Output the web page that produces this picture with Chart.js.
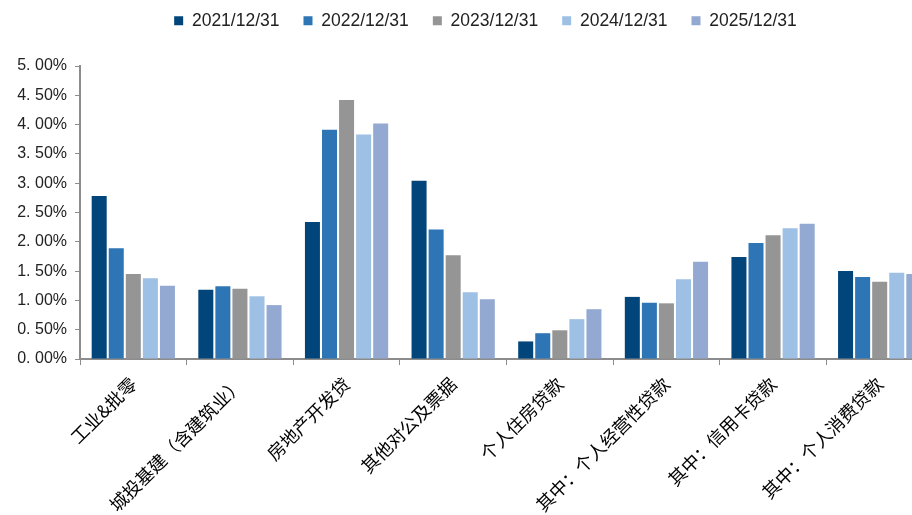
<!DOCTYPE html>
<html>
<head>
<meta charset="utf-8">
<script src="https://cdn.jsdelivr.net/npm/chart.js@4/dist/chart.umd.min.js"></script>
<style>
  html, body { margin: 0; padding: 0; background: #fff; overflow: hidden; }
  #wrap { width: 970px; height: 515px; }
</style>
</head>
<body>
<div id="wrap"><canvas id="chart"></canvas></div>
<script>
// 各行业不良率（按年末）
const categories = ['工业&批零', '城投基建（含建筑业）', '房地产开发贷', '其他对公及票据',
  '个人住房贷款', '其中：个人经营性贷款', '其中：信用卡贷款', '其中：个人消费贷款'];
const seriesNames = ['2021/12/31', '2022/12/31', '2023/12/31', '2024/12/31', '2025/12/31'];
const colors = ['#02457A', '#2E75B6', '#959595', '#9DC0E4', '#94A9D1'];

const v2021 = [2.78, 1.18, 2.34, 3.04, 0.30, 1.06, 1.74, 1.50];
const v2022 = [1.89, 1.24, 3.91, 2.21, 0.44, 0.96, 1.98, 1.40];
const v2023 = [1.45, 1.20, 4.42, 1.77, 0.49, 0.95, 2.11, 1.32];
const v2024 = [1.38, 1.07, 3.83, 1.14, 0.68, 1.36, 2.23, 1.47];
const v2025 = [1.25, 0.92, 4.02, 1.02, 0.85, 1.66, 2.31, 1.45];

const values = [v2021, v2022, v2023, v2024, v2025];

const latin = "'Liberation Sans', Arial, sans-serif";
const cjk = "'Noto Sans CJK SC', sans-serif";

// legend: fixed height, nudged right (the original plot runs past the right edge)
const legendTweak = {
  id: 'legendTweak',
  beforeInit(chart) {
    const fit = chart.legend.fit;
    chart.legend.fit = function () {
      fit.call(this);
      this.height = 78;
    };
  },
  afterLayout(chart) {
    chart.legend.left += 19;
    chart.legend.right += 19;
  },
};

new Chart(document.getElementById('chart'), {
  type: 'bar',
  data: {
    labels: categories,
    datasets: values.map((data, i) => ({
      label: seriesNames[i],
      data,
      backgroundColor: colors[i],
      borderWidth: 0,
      categoryPercentage: 0.8,
      barPercentage: 0.88,
    })),
  },
  options: {
    responsive: true,
    maintainAspectRatio: false,
    animation: false,
    layout: { padding: { left: 0, right: 37, top: -12, bottom: 0 } },
    plugins: {
      legend: {
        position: 'top',
        labels: {
          boxWidth: 9,
          boxHeight: 9,
          padding: 24,
          color: '#222',
          font: { family: latin, size: 17.5 },
        },
      },
      tooltip: { enabled: false },
    },
    scales: {
      x: {
        afterFit(scale) { scale.height = 156; },
        grid: {
          offset: true,
          drawOnChartArea: false,
          drawTicks: true,
          tickLength: 6,
          color: '#8c8c8c',
        },
        border: { color: '#8c8c8c', width: 2 },
        ticks: {
          minRotation: 45,
          maxRotation: 45,
          autoSkip: false,
          padding: 8,
          color: '#000',
          font: { family: cjk, size: 18 },
        },
      },
      y: {
        min: 0,
        max: 5,
        afterFit(scale) { scale.width = 80; },
        grid: {
          drawOnChartArea: false,
          drawTicks: true,
          tickLength: 5,
          color: '#8c8c8c',
        },
        border: { color: '#8c8c8c', width: 2 },
        ticks: {
          stepSize: 0.5,
          color: '#222',
          padding: 8,
          font: { family: latin, size: 16 },
          callback: v => v.toFixed(2).replace('.', '. ') + '%',
        },
      },
    },
  },
  plugins: [legendTweak],
});
</script>
</body>
</html>
